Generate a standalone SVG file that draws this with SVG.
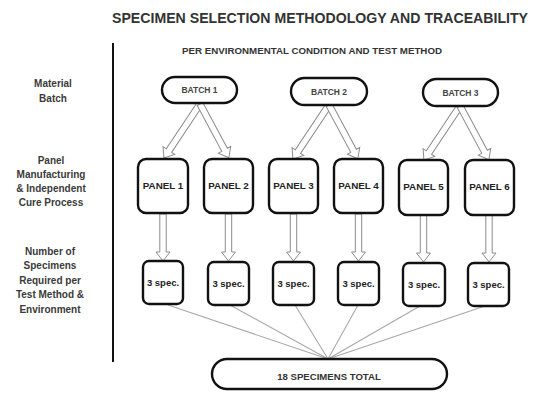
<svg xmlns="http://www.w3.org/2000/svg" width="536" height="393" viewBox="0 0 536 393">
<defs>
<style>
text{font-family:"Liberation Sans",Arial,sans-serif;font-weight:bold;text-anchor:middle;fill:#333}
.box{fill:#fff;stroke:#111;stroke-width:2.4}
.arr{fill:#fff;stroke:#8c8c8c;stroke-width:1}
.ln{stroke:#a8a8a8;stroke-width:1.1;fill:none}
.lbl{font-size:10px;fill:#3a3a3a}
.bt{font-size:8.5px;fill:#444}
.pn{font-size:9.8px;fill:#222}
.sp{font-size:9.5px;fill:#222}
</style>
<polygon id="a47" points="0,-3.2 38,-3.2 38,-7 47,0 38,7 38,3.2 0,3.2"/>
<polygon id="a65" points="0,-3.2 56,-3.2 56,-7 65,0 56,7 56,3.2 0,3.2"/>
<polygon id="a61" points="0,-3.2 52,-3.2 52,-7 61,0 52,7 52,3.2 0,3.2"/>
</defs>
<rect width="536" height="393" fill="#fff"/>

<g id="title">
<text x="320" y="23" font-size="14" textLength="416" lengthAdjust="spacingAndGlyphs" fill="#222">SPECIMEN SELECTION METHODOLOGY AND TRACEABILITY</text>
<text x="312" y="53.5" font-size="9" textLength="260" lengthAdjust="spacingAndGlyphs" fill="#222">PER ENVIRONMENTAL CONDITION AND TEST METHOD</text>
</g>

<g id="row-labels">
<line x1="113" y1="43" x2="113" y2="362" stroke="#111" stroke-width="2"/>
<text class="lbl" x="53" y="86.5">Material</text>
<text class="lbl" x="53" y="101.5">Batch</text>
<text class="lbl" x="51" y="163.5">Panel</text>
<text class="lbl" x="51" y="178">Manufacturing</text>
<text class="lbl" x="51" y="192">&amp; Independent</text>
<text class="lbl" x="51" y="206">Cure Process</text>
<text class="lbl" x="50" y="254.5">Number of</text>
<text class="lbl" x="50" y="268.5">Specimens</text>
<text class="lbl" x="50" y="283.5">Required per</text>
<text class="lbl" x="50" y="297.5">Test Method &amp;</text>
<text class="lbl" x="50" y="312.5">Environment</text>
</g>

<g id="connectors">
<use href="#a65" class="arr" transform="translate(200,104) rotate(123.7)"/>
<use href="#a61" class="arr" transform="translate(200,104) rotate(61.8)"/>
<use href="#a65" class="arr" transform="translate(329,105) rotate(123.7)"/>
<use href="#a61" class="arr" transform="translate(329,105) rotate(61.8)"/>
<use href="#a65" class="arr" transform="translate(460,106) rotate(123.7)"/>
<use href="#a61" class="arr" transform="translate(460,106) rotate(61.8)"/>
<use href="#a47" class="arr" transform="translate(163,214) rotate(90)"/>
<use href="#a47" class="arr" transform="translate(228.5,214) rotate(90)"/>
<use href="#a47" class="arr" transform="translate(293.5,214) rotate(90)"/>
<use href="#a47" class="arr" transform="translate(358.5,214) rotate(90)"/>
<use href="#a47" class="arr" transform="translate(423.5,215) rotate(90)"/>
<use href="#a47" class="arr" transform="translate(489,215) rotate(90)"/>
<line class="ln" x1="168" y1="305" x2="328" y2="359"/>
<line class="ln" x1="230" y1="305" x2="328" y2="359"/>
<line class="ln" x1="295" y1="305" x2="328" y2="359"/>
<line class="ln" x1="358" y1="305" x2="328" y2="359"/>
<line class="ln" x1="420" y1="306" x2="328" y2="359"/>
<line class="ln" x1="485" y1="306" x2="328" y2="359"/>
</g>

<g id="batch1"><rect class="box" x="162" y="77" width="75" height="26" rx="13"/><text class="bt" x="199.5" y="93">BATCH 1</text></g>
<g id="batch2"><rect class="box" x="291" y="78" width="76" height="27" rx="13.5"/><text class="bt" x="329" y="94.5">BATCH 2</text></g>
<g id="batch3"><rect class="box" x="423" y="79" width="75" height="27" rx="13.5"/><text class="bt" x="460.5" y="95.5">BATCH 3</text></g>

<g id="panel1"><rect class="box" x="138" y="159" width="50" height="54" rx="8"/><text class="pn" x="163" y="189">PANEL 1</text></g>
<g id="panel2"><rect class="box" x="204" y="159" width="49" height="54" rx="8"/><text class="pn" x="228.5" y="189">PANEL 2</text></g>
<g id="panel3"><rect class="box" x="269" y="159" width="49" height="54" rx="8"/><text class="pn" x="293.5" y="189">PANEL 3</text></g>
<g id="panel4"><rect class="box" x="334" y="159" width="49" height="54" rx="8"/><text class="pn" x="358.5" y="189">PANEL 4</text></g>
<g id="panel5"><rect class="box" x="399" y="160" width="49" height="55" rx="8"/><text class="pn" x="423.5" y="190">PANEL 5</text></g>
<g id="panel6"><rect class="box" x="465" y="160" width="49" height="55" rx="8"/><text class="pn" x="489.5" y="190">PANEL 6</text></g>

<g id="spec1"><rect class="box" x="143" y="261" width="40" height="43" rx="6"/><text class="sp" x="163" y="286">3 spec.</text></g>
<g id="spec2"><rect class="box" x="208" y="262" width="41" height="43" rx="6"/><text class="sp" x="228.5" y="287">3 spec.</text></g>
<g id="spec3"><rect class="box" x="273" y="262" width="41" height="43" rx="6"/><text class="sp" x="293.5" y="287">3 spec.</text></g>
<g id="spec4"><rect class="box" x="338" y="262" width="41" height="43" rx="6"/><text class="sp" x="358.5" y="287">3 spec.</text></g>
<g id="spec5"><rect class="box" x="403" y="263" width="42" height="43" rx="6"/><text class="sp" x="424" y="288">3 spec.</text></g>
<g id="spec6"><rect class="box" x="468" y="263" width="41" height="43" rx="6"/><text class="sp" x="488.5" y="288">3 spec.</text></g>

<g id="total"><rect class="box" x="212" y="359" width="235" height="30" rx="15"/><text x="329" y="380" font-size="9.6" fill="#222">18 SPECIMENS TOTAL</text></g>
</svg>
